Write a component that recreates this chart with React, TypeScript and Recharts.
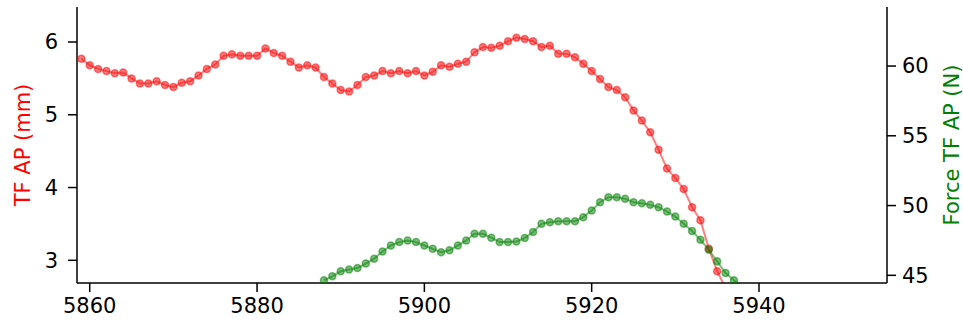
import { LineChart, Line, XAxis, YAxis, Label } from "recharts";

// TF AP displacement (mm), one sample per second starting at 5859
const TF_START = 5859;
const tfAp = [
  5.77, 5.68, 5.63, 5.6, 5.57, 5.58, 5.5, 5.43, 5.43, 5.46, 5.41, 5.38, 5.44, 5.46, 5.54, 5.63,
  5.69, 5.81, 5.83, 5.81, 5.81, 5.81, 5.91, 5.85, 5.81, 5.73, 5.65, 5.68, 5.65, 5.52, 5.43, 5.34,
  5.32, 5.41, 5.52, 5.54, 5.6, 5.57, 5.6, 5.57, 5.6, 5.54, 5.59, 5.68, 5.66, 5.7, 5.73, 5.86,
  5.93, 5.92, 5.95, 6.01, 6.06, 6.04, 6.01, 5.93, 5.95, 5.84, 5.84, 5.79, 5.7, 5.6, 5.49, 5.38,
  5.34, 5.24, 5.06, 4.92, 4.76, 4.52, 4.26, 4.13, 3.98, 3.73, 3.55, 3.16, 2.85, 2.62,
];

// Force TF AP (N), starting at 5888
const FORCE_START = 5888;
const forceAp = [
  44.64, 44.93, 45.29, 45.41, 45.52, 45.84, 46.19, 46.71, 47.14, 47.38, 47.5, 47.38, 47.14, 46.9,
  46.66, 46.79, 47.14, 47.5, 47.98, 47.98, 47.7, 47.38, 47.38, 47.43, 47.67, 48.1, 48.69, 48.81,
  48.88, 48.88, 48.88, 49.17, 49.64, 50.24, 50.6, 50.6, 50.48, 50.24, 50.17, 50.05, 49.88, 49.57,
  49.21, 48.69, 48.17, 47.55, 46.83, 46.0, 45.17, 44.64, 44.1,
];

const xTicks = [5860, 5880, 5900, 5920, 5940];
const leftTicks = [3, 4, 5, 6];
const rightTicks = [45, 50, 55, 60];

const RED = "#ff0000";
const GREEN = "#008000";
const FONT = "DejaVu Sans";

const lastT = Math.max(TF_START + tfAp.length, FORCE_START + forceAp.length);
const rows: { t: number; tf: number | null; force: number | null }[] = [];
for (let t = TF_START; t < lastT; t++) {
  const a = t - TF_START;
  const b = t - FORCE_START;
  rows.push({
    t,
    tf: a >= 0 && a < tfAp.length ? tfAp[a] : null,
    force: b >= 0 && b < forceAp.length ? forceAp[b] : null,
  });
}

const tickStyle = { fill: "#000", fontSize: 21, fontFamily: FONT };
const spine = { stroke: "#000", strokeWidth: 1.5 };

function AxisTitle(props: any) {
  const { viewBox, value, fill, dx } = props;
  const x = viewBox.x + dx;
  const y = viewBox.y + viewBox.height / 2;
  return (
    <text
      x={x}
      y={y}
      transform={`rotate(-90 ${x} ${y})`}
      textAnchor="middle"
      dominantBaseline="central"
      fill={fill}
      fontSize={21}
      fontFamily={FONT}
    >
      {value}
    </text>
  );
}

export default function App() {
  return (
    <div style={{ position: "absolute", left: 0, top: 0, background: "#fff" }}>
      <LineChart width={963} height={321} data={rows} margin={{ top: 7, right: 0, bottom: 0, left: 0 }}>
        <XAxis
          dataKey="t"
          type="number"
          domain={[5858.48, 5955.3]}
          allowDataOverflow
          ticks={xTicks}
          height={38}
          tickSize={9}
          tickMargin={6}
          tick={tickStyle}
          axisLine={spine}
          tickLine={spine}
        />
        <XAxis xAxisId="top" orientation="top" dataKey="t" type="number" domain={[5858.48, 5955.3]} height={0} tick={false} tickLine={false} axisLine={spine} />
        <YAxis
          yAxisId="left"
          domain={[2.688, 6.481]}
          allowDataOverflow
          ticks={leftTicks}
          width={77}
          tickSize={9}
          tickMargin={10}
          tick={tickStyle}
          axisLine={spine}
          tickLine={spine}
        >
          <Label content={<AxisTitle value="TF AP (mm)" fill={RED} dx={23} />} />
        </YAxis>
        <YAxis
          yAxisId="right"
          orientation="right"
          domain={[44.45, 64.23]}
          allowDataOverflow
          ticks={rightTicks}
          width={76}
          tickSize={9}
          tickMargin={6}
          tick={tickStyle}
          axisLine={spine}
          tickLine={spine}
        >
          <Label content={<AxisTitle value="Force TF AP (N)" fill={GREEN} dx={65} />} />
        </YAxis>
        <Line
          yAxisId="left"
          dataKey="tf"
          stroke={RED}
          strokeOpacity={0.5}
          strokeWidth={2}
          dot={{ r: 3.5, fill: RED, fillOpacity: 0.5, stroke: RED, strokeOpacity: 0.5, strokeWidth: 1.5 }}
          isAnimationActive={false}
        />
        <Line
          yAxisId="right"
          dataKey="force"
          stroke={GREEN}
          strokeOpacity={0.5}
          strokeWidth={2}
          dot={{ r: 3.5, fill: GREEN, fillOpacity: 0.5, stroke: GREEN, strokeOpacity: 0.5, strokeWidth: 1.5 }}
          isAnimationActive={false}
        />
      </LineChart>
    </div>
  );
}
